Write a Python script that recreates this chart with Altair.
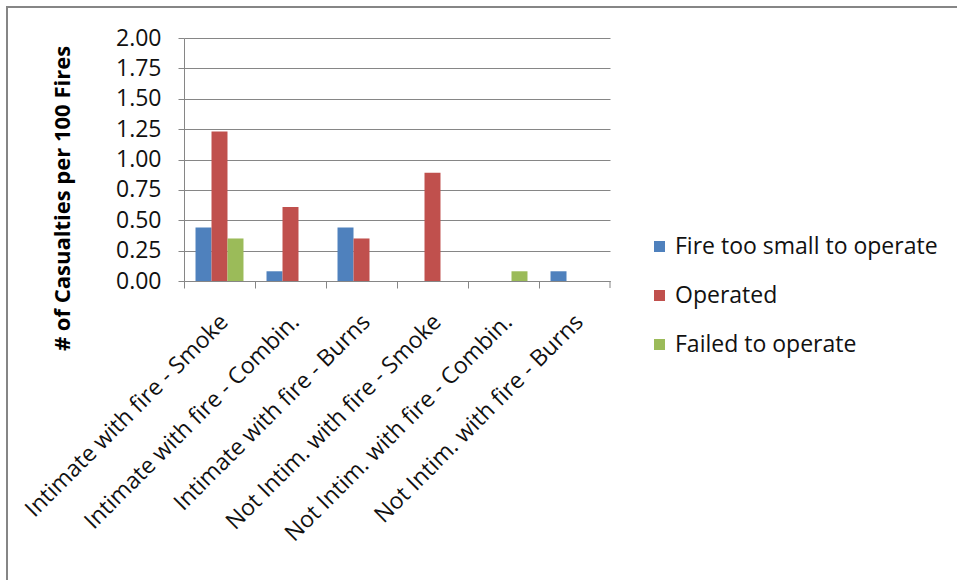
import altair as alt
import pandas as pd

categories = [
    "Intimate with fire - Smoke",
    "Intimate with fire - Combin.",
    "Intimate with fire - Burns",
    "Not Intim. with fire - Smoke",
    "Not Intim. with fire - Combin.",
    "Not Intim. with fire - Burns",
]
series = ["Fire too small to operate", "Operated", "Failed to operate"]
too_small = [0.44, 0.08, 0.44, 0.0, 0.0, 0.08]
operated = [1.23, 0.61, 0.35, 0.89, 0.0, 0.0]
failed = [0.35, 0.0, 0.0, 0.0, 0.08, 0.0]
colors = ["#4F81BD", "#C0504D", "#9BBB59"]
y_ticks = [0, 0.25, 0.5, 0.75, 1.0, 1.25, 1.5, 1.75, 2.0]

rows = []
for vals, s in zip([too_small, operated, failed], series):
    for c, v in zip(categories, vals):
        rows.append({"category": c, "series": s, "value": v})
df = pd.DataFrame(rows)

FONT = "Open Sans"
FS = 23
W, H = 426, 243

bars = alt.Chart(df).mark_bar().encode(
    x=alt.X("category:N", sort=categories,
            scale=alt.Scale(paddingInner=0, paddingOuter=0),
            axis=alt.Axis(title=None, labelAngle=-45, labelAlign="right",
                          labelBaseline="middle", labelFontSize=FS,
                          labelFont=FONT, labelColor="#111", labelPadding=30,
                          labelOffset=5,
                          bandPosition=0, tickSize=7, tickColor="#868686",
                          domainColor="#868686", labelLimit=500)),
    xOffset=alt.XOffset("series:N", sort=series,
                        scale=alt.Scale(domain=series, paddingInner=0, paddingOuter=0.72)),
    y=alt.Y("value:Q", scale=alt.Scale(domain=[0, 2], nice=False),
            axis=alt.Axis(values=y_ticks, format=".2f", title="# of Casualties per 100 Fires",
                          titleFont=FONT, titleFontSize=22, titleFontWeight="bold",
                          titleColor="#000", titleX=-122, titleY=160,
                          titleAlign="center", titleBaseline="middle",
                          labelFont=FONT, labelFontSize=FS, labelColor="#111",
                          labelPadding=17, tickSize=6, tickColor="#868686",
                          domainColor="#868686", gridColor="#868686", grid=True)),
    color=alt.Color("series:N", sort=series,
                    scale=alt.Scale(domain=series, range=colors),
                    legend=alt.Legend(title=None, orient="none", legendX=464, legendY=197,
                                      symbolType="square", symbolSize=121,
                                      symbolStrokeWidth=0, labelFont=FONT,
                                      labelFontSize=FS, labelColor="#111",
                                      rowPadding=25, labelOffset=4, labelLimit=500)),
)

end_tick = alt.Chart(pd.DataFrame({"k": [0]})).mark_rule(
    color="#868686", strokeWidth=1
).encode(x=alt.value(W), y=alt.value(H), y2=alt.value(H + 7))

border = alt.Chart(pd.DataFrame({"k": [0]})).mark_rect(
    fill=None, stroke="#868686", strokeWidth=2
).encode(x=alt.value(-177), x2=alt.value(800), y=alt.value(-31), y2=alt.value(600))

chart = alt.layer(bars, end_tick, border).properties(
    width=W, height=H,
    autosize=alt.AutoSizeParams(type="none"),
    padding={"left": 184, "top": 38, "right": 957 - 184 - W, "bottom": 580 - 38 - H},
    background="white",
).configure_view(stroke=None)

chart.save("out.html", embed_options={"renderer": "svg", "actions": False})
